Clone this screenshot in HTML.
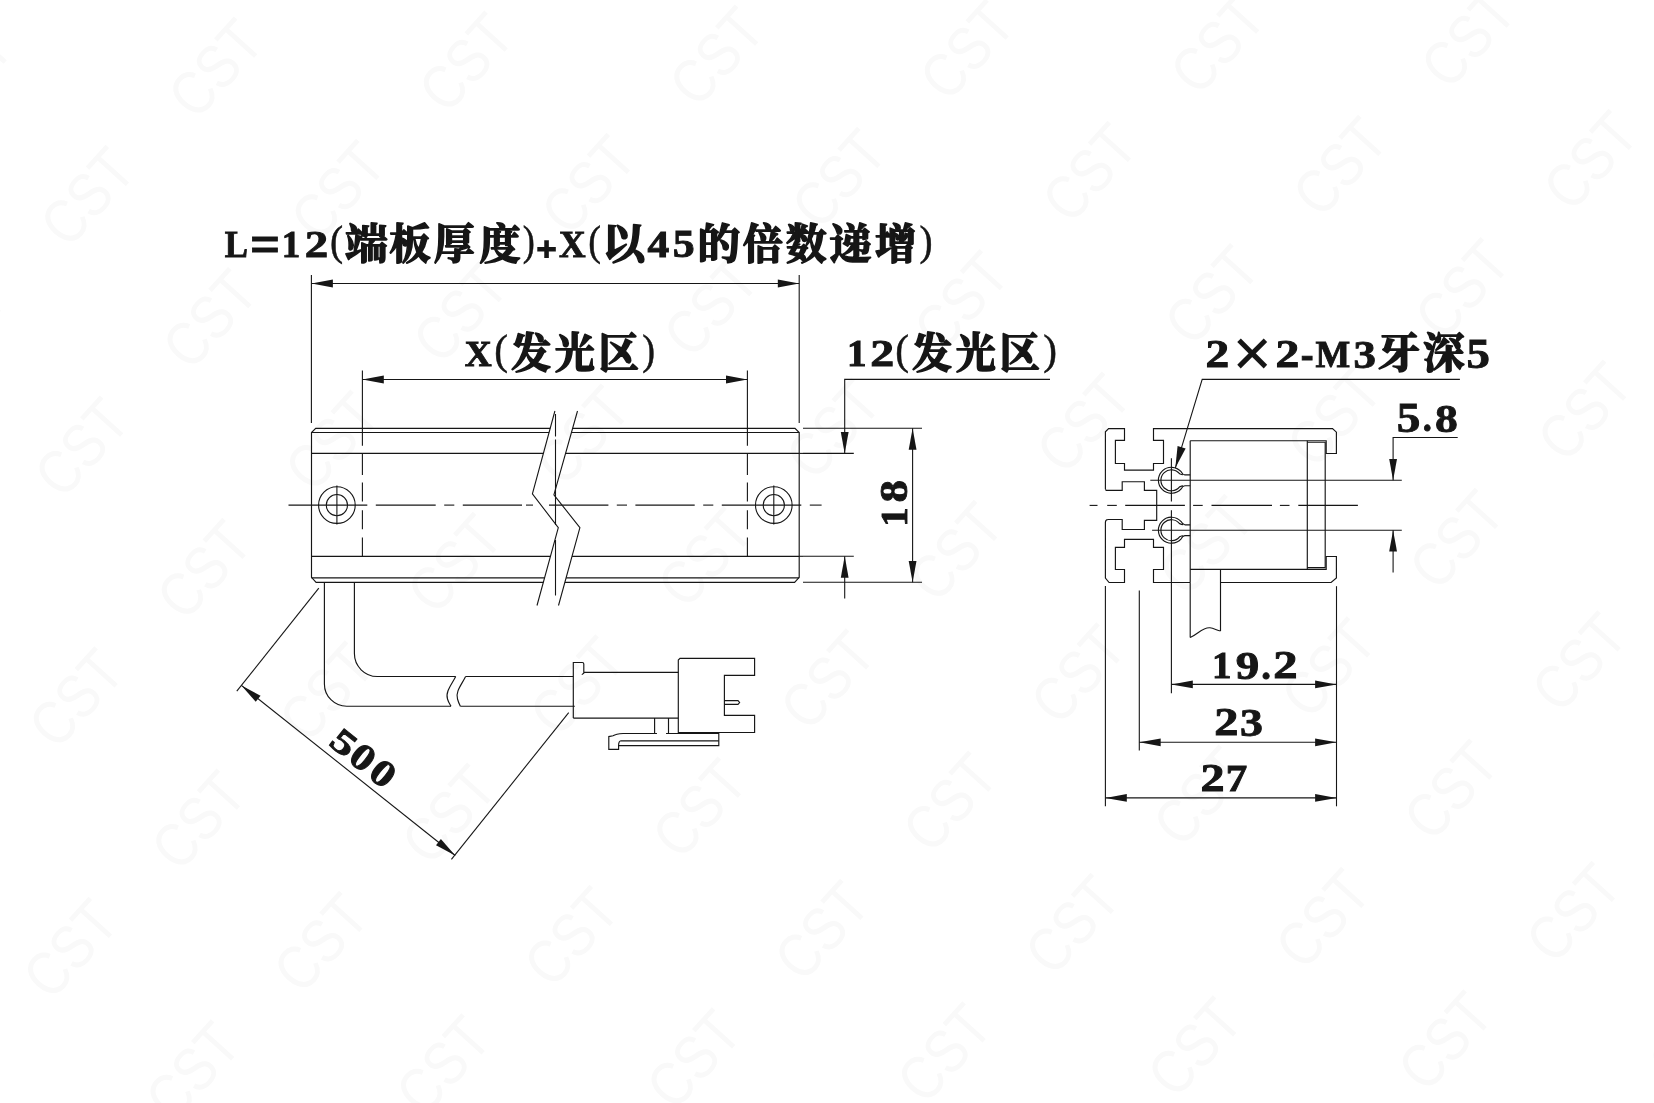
<!DOCTYPE html>
<html lang="zh-CN"><head><meta charset="utf-8"><title>CST 尺寸图</title>
<style>
html,body{margin:0;padding:0;background:#fff;}
body{width:1654px;height:1103px;overflow:hidden;}
svg{display:block;will-change:transform;}
.l{stroke:#161616;stroke-width:1.1;fill:none;}
.o{stroke:#161616;stroke-width:1.15;fill:none;}
.q{stroke:#161616;stroke-width:1.15;fill:none;stroke-linejoin:miter;}
.a{fill:#161616;stroke:none;}
.T{fill:#161616;font-family:"Liberation Serif","Noto Serif CJK SC",serif;}
.b{font-weight:bold;stroke:#161616;stroke-width:0.9px;}
.p{font-weight:bold;stroke:#161616;stroke-width:2px;}
.r{font-weight:normal;stroke:#161616;stroke-width:0.5px;}
.x{font-weight:normal;stroke:#161616;stroke-width:1.6px;}
.c{font-weight:bold;stroke:#161616;stroke-width:1.6px;stroke-linejoin:round;}
.wm text{font-family:"Liberation Sans",sans-serif;font-size:62px;fill:#f9f9f9;}
</style></head><body>
<svg width="1654" height="1103" viewBox="0 0 1654 1103">
<rect width="1654" height="1103" fill="#fff"/>
<g class="wm">
<text transform="translate(92.6,-54.35) rotate(-48) scale(0.84,1)" x="0" y="22" text-anchor="middle">CST</text>
<text transform="translate(-35.5,74) rotate(-48) scale(0.84,1)" x="0" y="22" text-anchor="middle">CST</text>
<text transform="translate(86.9,196.35) rotate(-48) scale(0.84,1)" x="0" y="22" text-anchor="middle">CST</text>
<text transform="translate(-41.2,324.7) rotate(-48) scale(0.84,1)" x="0" y="22" text-anchor="middle">CST</text>
<text transform="translate(81.2,447.05) rotate(-48) scale(0.84,1)" x="0" y="22" text-anchor="middle">CST</text>
<text transform="translate(-46.9,575.4) rotate(-48) scale(0.84,1)" x="0" y="22" text-anchor="middle">CST</text>
<text transform="translate(75.5,697.75) rotate(-48) scale(0.84,1)" x="0" y="22" text-anchor="middle">CST</text>
<text transform="translate(-52.6,826.1) rotate(-48) scale(0.84,1)" x="0" y="22" text-anchor="middle">CST</text>
<text transform="translate(69.8,948.45) rotate(-48) scale(0.84,1)" x="0" y="22" text-anchor="middle">CST</text>
<text transform="translate(-58.3,1076.8) rotate(-48) scale(0.84,1)" x="0" y="22" text-anchor="middle">CST</text>
<text transform="translate(343.1,-60.35) rotate(-48) scale(0.84,1)" x="0" y="22" text-anchor="middle">CST</text>
<text transform="translate(215,68) rotate(-48) scale(0.84,1)" x="0" y="22" text-anchor="middle">CST</text>
<text transform="translate(337.4,190.35) rotate(-48) scale(0.84,1)" x="0" y="22" text-anchor="middle">CST</text>
<text transform="translate(209.3,318.7) rotate(-48) scale(0.84,1)" x="0" y="22" text-anchor="middle">CST</text>
<text transform="translate(331.7,441.05) rotate(-48) scale(0.84,1)" x="0" y="22" text-anchor="middle">CST</text>
<text transform="translate(203.6,569.4) rotate(-48) scale(0.84,1)" x="0" y="22" text-anchor="middle">CST</text>
<text transform="translate(326,691.75) rotate(-48) scale(0.84,1)" x="0" y="22" text-anchor="middle">CST</text>
<text transform="translate(197.9,820.1) rotate(-48) scale(0.84,1)" x="0" y="22" text-anchor="middle">CST</text>
<text transform="translate(320.3,942.45) rotate(-48) scale(0.84,1)" x="0" y="22" text-anchor="middle">CST</text>
<text transform="translate(192.2,1070.8) rotate(-48) scale(0.84,1)" x="0" y="22" text-anchor="middle">CST</text>
<text transform="translate(593.6,-66.35) rotate(-48) scale(0.84,1)" x="0" y="22" text-anchor="middle">CST</text>
<text transform="translate(465.5,62) rotate(-48) scale(0.84,1)" x="0" y="22" text-anchor="middle">CST</text>
<text transform="translate(587.9,184.35) rotate(-48) scale(0.84,1)" x="0" y="22" text-anchor="middle">CST</text>
<text transform="translate(459.8,312.7) rotate(-48) scale(0.84,1)" x="0" y="22" text-anchor="middle">CST</text>
<text transform="translate(582.2,435.05) rotate(-48) scale(0.84,1)" x="0" y="22" text-anchor="middle">CST</text>
<text transform="translate(454.1,563.4) rotate(-48) scale(0.84,1)" x="0" y="22" text-anchor="middle">CST</text>
<text transform="translate(576.5,685.75) rotate(-48) scale(0.84,1)" x="0" y="22" text-anchor="middle">CST</text>
<text transform="translate(448.4,814.1) rotate(-48) scale(0.84,1)" x="0" y="22" text-anchor="middle">CST</text>
<text transform="translate(570.8,936.45) rotate(-48) scale(0.84,1)" x="0" y="22" text-anchor="middle">CST</text>
<text transform="translate(442.7,1064.8) rotate(-48) scale(0.84,1)" x="0" y="22" text-anchor="middle">CST</text>
<text transform="translate(844.1,-72.35) rotate(-48) scale(0.84,1)" x="0" y="22" text-anchor="middle">CST</text>
<text transform="translate(716,56) rotate(-48) scale(0.84,1)" x="0" y="22" text-anchor="middle">CST</text>
<text transform="translate(838.4,178.35) rotate(-48) scale(0.84,1)" x="0" y="22" text-anchor="middle">CST</text>
<text transform="translate(710.3,306.7) rotate(-48) scale(0.84,1)" x="0" y="22" text-anchor="middle">CST</text>
<text transform="translate(832.7,429.05) rotate(-48) scale(0.84,1)" x="0" y="22" text-anchor="middle">CST</text>
<text transform="translate(704.6,557.4) rotate(-48) scale(0.84,1)" x="0" y="22" text-anchor="middle">CST</text>
<text transform="translate(827,679.75) rotate(-48) scale(0.84,1)" x="0" y="22" text-anchor="middle">CST</text>
<text transform="translate(698.9,808.1) rotate(-48) scale(0.84,1)" x="0" y="22" text-anchor="middle">CST</text>
<text transform="translate(821.3,930.45) rotate(-48) scale(0.84,1)" x="0" y="22" text-anchor="middle">CST</text>
<text transform="translate(693.2,1058.8) rotate(-48) scale(0.84,1)" x="0" y="22" text-anchor="middle">CST</text>
<text transform="translate(815.6,1181.15) rotate(-48) scale(0.84,1)" x="0" y="22" text-anchor="middle">CST</text>
<text transform="translate(1094.6,-78.35) rotate(-48) scale(0.84,1)" x="0" y="22" text-anchor="middle">CST</text>
<text transform="translate(966.5,50) rotate(-48) scale(0.84,1)" x="0" y="22" text-anchor="middle">CST</text>
<text transform="translate(1088.9,172.35) rotate(-48) scale(0.84,1)" x="0" y="22" text-anchor="middle">CST</text>
<text transform="translate(960.8,300.7) rotate(-48) scale(0.84,1)" x="0" y="22" text-anchor="middle">CST</text>
<text transform="translate(1083.2,423.05) rotate(-48) scale(0.84,1)" x="0" y="22" text-anchor="middle">CST</text>
<text transform="translate(955.1,551.4) rotate(-48) scale(0.84,1)" x="0" y="22" text-anchor="middle">CST</text>
<text transform="translate(1077.5,673.75) rotate(-48) scale(0.84,1)" x="0" y="22" text-anchor="middle">CST</text>
<text transform="translate(949.4,802.1) rotate(-48) scale(0.84,1)" x="0" y="22" text-anchor="middle">CST</text>
<text transform="translate(1071.8,924.45) rotate(-48) scale(0.84,1)" x="0" y="22" text-anchor="middle">CST</text>
<text transform="translate(943.7,1052.8) rotate(-48) scale(0.84,1)" x="0" y="22" text-anchor="middle">CST</text>
<text transform="translate(1066.1,1175.15) rotate(-48) scale(0.84,1)" x="0" y="22" text-anchor="middle">CST</text>
<text transform="translate(1217,44) rotate(-48) scale(0.84,1)" x="0" y="22" text-anchor="middle">CST</text>
<text transform="translate(1339.4,166.35) rotate(-48) scale(0.84,1)" x="0" y="22" text-anchor="middle">CST</text>
<text transform="translate(1211.3,294.7) rotate(-48) scale(0.84,1)" x="0" y="22" text-anchor="middle">CST</text>
<text transform="translate(1333.7,417.05) rotate(-48) scale(0.84,1)" x="0" y="22" text-anchor="middle">CST</text>
<text transform="translate(1205.6,545.4) rotate(-48) scale(0.84,1)" x="0" y="22" text-anchor="middle">CST</text>
<text transform="translate(1328,667.75) rotate(-48) scale(0.84,1)" x="0" y="22" text-anchor="middle">CST</text>
<text transform="translate(1199.9,796.1) rotate(-48) scale(0.84,1)" x="0" y="22" text-anchor="middle">CST</text>
<text transform="translate(1322.3,918.45) rotate(-48) scale(0.84,1)" x="0" y="22" text-anchor="middle">CST</text>
<text transform="translate(1194.2,1046.8) rotate(-48) scale(0.84,1)" x="0" y="22" text-anchor="middle">CST</text>
<text transform="translate(1316.6,1169.15) rotate(-48) scale(0.84,1)" x="0" y="22" text-anchor="middle">CST</text>
<text transform="translate(1467.5,38) rotate(-48) scale(0.84,1)" x="0" y="22" text-anchor="middle">CST</text>
<text transform="translate(1589.9,160.35) rotate(-48) scale(0.84,1)" x="0" y="22" text-anchor="middle">CST</text>
<text transform="translate(1461.8,288.7) rotate(-48) scale(0.84,1)" x="0" y="22" text-anchor="middle">CST</text>
<text transform="translate(1584.2,411.05) rotate(-48) scale(0.84,1)" x="0" y="22" text-anchor="middle">CST</text>
<text transform="translate(1456.1,539.4) rotate(-48) scale(0.84,1)" x="0" y="22" text-anchor="middle">CST</text>
<text transform="translate(1578.5,661.75) rotate(-48) scale(0.84,1)" x="0" y="22" text-anchor="middle">CST</text>
<text transform="translate(1450.4,790.1) rotate(-48) scale(0.84,1)" x="0" y="22" text-anchor="middle">CST</text>
<text transform="translate(1572.8,912.45) rotate(-48) scale(0.84,1)" x="0" y="22" text-anchor="middle">CST</text>
<text transform="translate(1444.7,1040.8) rotate(-48) scale(0.84,1)" x="0" y="22" text-anchor="middle">CST</text>
<text transform="translate(1567.1,1163.15) rotate(-48) scale(0.84,1)" x="0" y="22" text-anchor="middle">CST</text>
<text transform="translate(1718,32) rotate(-48) scale(0.84,1)" x="0" y="22" text-anchor="middle">CST</text>
<text transform="translate(1712.3,282.7) rotate(-48) scale(0.84,1)" x="0" y="22" text-anchor="middle">CST</text>
<text transform="translate(1706.6,533.4) rotate(-48) scale(0.84,1)" x="0" y="22" text-anchor="middle">CST</text>
<text transform="translate(1700.9,784.1) rotate(-48) scale(0.84,1)" x="0" y="22" text-anchor="middle">CST</text>
<text transform="translate(1695.2,1034.8) rotate(-48) scale(0.84,1)" x="0" y="22" text-anchor="middle">CST</text>
</g>
<path class="l" d="M554.9 411 L532.4 493.8 L558.3 527.7 L537 605.5"/>
<path class="l" d="M577.5 411 L553.9 494.8 L579.9 527.7 L558.5 605.5"/>
<path class="o" d="M550.2 428.3 L315.7 428.3 L311.5 432.5 L311.5 577.3 L316.1 582.3 L543.35 582.3"/>
<path class="o" d="M572.63 428.3 L795 428.3 L799.2 432.5 L799.2 577.3 L794.6 582.3 L564.88 582.3"/>
<line class="o" x1="311.5" y1="432.5" x2="549.06" y2="432.5"/>
<line class="o" x1="571.45" y1="432.5" x2="799.2" y2="432.5"/>
<line class="o" x1="311.5" y1="453.4" x2="543.38" y2="453.4"/>
<line class="o" x1="565.56" y1="453.4" x2="799.2" y2="453.4"/>
<line class="o" x1="311.5" y1="556.3" x2="550.47" y2="556.3"/>
<line class="o" x1="572.03" y1="556.3" x2="799.2" y2="556.3"/>
<line class="o" x1="311.5" y1="577.9" x2="544.56" y2="577.9"/>
<line class="o" x1="566.09" y1="577.9" x2="799.2" y2="577.9"/>
<circle class="l" cx="336.9" cy="505.1" r="18.3"/>
<circle class="l" cx="336.9" cy="505.1" r="10.6"/>
<line class="l" x1="336.9" y1="485.6" x2="336.9" y2="524.6"/>
<circle class="l" cx="773.8" cy="505.1" r="18.3"/>
<circle class="l" cx="773.8" cy="505.1" r="10.6"/>
<line class="l" x1="773.8" y1="485.6" x2="773.8" y2="524.6"/>
<line class="l" x1="288.5" y1="505.1" x2="367.3" y2="505.1"/>
<line class="l" x1="375.8" y1="505.1" x2="435.7" y2="505.1"/>
<line class="l" x1="444.2" y1="505.1" x2="454.3" y2="505.1"/>
<line class="l" x1="462.8" y1="505.1" x2="522" y2="505.1"/>
<line class="l" x1="526" y1="505.1" x2="533" y2="505.1"/>
<line class="l" x1="549" y1="505.1" x2="608.4" y2="505.1"/>
<line class="l" x1="616.8" y1="505.1" x2="627" y2="505.1"/>
<line class="l" x1="635.4" y1="505.1" x2="694.7" y2="505.1"/>
<line class="l" x1="703.2" y1="505.1" x2="713.3" y2="505.1"/>
<line class="l" x1="721.8" y1="505.1" x2="801.3" y2="505.1"/>
<line class="l" x1="809.8" y1="505.1" x2="821.6" y2="505.1"/>
<line class="l" x1="555.5" y1="414" x2="555.5" y2="436.5"/>
<line class="l" x1="555.5" y1="439.5" x2="555.5" y2="525"/>
<line class="l" x1="555.5" y1="540" x2="555.5" y2="595.5"/>
<line class="l" x1="362.4" y1="370.5" x2="362.4" y2="445.8"/>
<line class="l" x1="362.4" y1="453.9" x2="362.4" y2="475"/>
<line class="l" x1="362.4" y1="482.4" x2="362.4" y2="501.4"/>
<line class="l" x1="362.4" y1="510.3" x2="362.4" y2="529.3"/>
<line class="l" x1="362.4" y1="537.4" x2="362.4" y2="556.3"/>
<line class="l" x1="747.4" y1="370.5" x2="747.4" y2="445.8"/>
<line class="l" x1="747.4" y1="453.9" x2="747.4" y2="475"/>
<line class="l" x1="747.4" y1="482.4" x2="747.4" y2="501.4"/>
<line class="l" x1="747.4" y1="510.3" x2="747.4" y2="529.3"/>
<line class="l" x1="747.4" y1="537.4" x2="747.4" y2="556.3"/>
<line class="l" x1="311.4" y1="275" x2="311.4" y2="423"/>
<line class="l" x1="799.2" y1="275" x2="799.2" y2="423"/>
<line class="l" x1="311.5" y1="283.5" x2="799.2" y2="283.5"/>
<polygon class="a" points="311.5,283.5 332.9,279.6 332.9,287.4"/>
<polygon class="a" points="799.2,283.5 777.8,287.4 777.8,279.6"/>
<line class="l" x1="362.4" y1="379.5" x2="747.4" y2="379.5"/>
<polygon class="a" points="362.4,379.5 383.8,375.6 383.8,383.4"/>
<polygon class="a" points="747.4,379.5 726,383.4 726,375.6"/>
<line class="l" x1="803" y1="453.4" x2="853.8" y2="453.4"/>
<line class="l" x1="803" y1="556.3" x2="853.8" y2="556.3"/>
<line class="l" x1="799.2" y1="453.4" x2="803" y2="453.4"/>
<line class="l" x1="799.2" y1="556.3" x2="803" y2="556.3"/>
<path class="l" d="M1050 379.4 L844.7 379.4 L844.7 453.4"/>
<polygon class="a" points="844.7,453.4 840.8,432 848.6,432"/>
<line class="l" x1="844.7" y1="556.3" x2="844.7" y2="598.5"/>
<polygon class="a" points="844.7,556.3 848.6,577.7 840.8,577.7"/>
<line class="l" x1="803" y1="428.3" x2="922" y2="428.3"/>
<line class="l" x1="803" y1="582.3" x2="922" y2="582.3"/>
<line class="l" x1="912.6" y1="428.3" x2="912.6" y2="582.3"/>
<polygon class="a" points="912.6,428.3 916.5,449.7 908.7,449.7"/>
<polygon class="a" points="912.6,582.3 908.7,560.9 916.5,560.9"/>
<path class="o" d="M324.4 582.3 L324.4 683.9 A22.3 22.3 0 0 0 346.7 706.2 L451 706.2"/>
<path class="o" d="M354.4 582.3 L354.4 653.6 A22.9 22.9 0 0 0 377.3 676.5 L455.7 676.5"/>
<path class="o" d="M455.7 676.5 C452 684 445 692 447.5 699 C448.5 702.5 450 704.5 451 706.2"/>
<path class="o" d="M465.6 676.5 C462 684 455 692 457.5 699 C458.5 702.5 459.5 704.5 460.3 706.2"/>
<line class="o" x1="465.6" y1="676.5" x2="573.3" y2="676.5"/>
<line class="o" x1="460.3" y1="706.2" x2="574.8" y2="706.2"/>
<path class="o" d="M573.3 718.1 L573.3 662.5 L582.3 662.5 Q583.8 662.5 583.8 664 L583.8 673.1 L581.8 674.6 M583.4 672.3 L678.3 672.3 M573.3 718.1 L678.3 718.1"/>
<path class="o" d="M678.3 732.5 L678.3 660 L680 658.3 L754.6 658.3 L754.6 675.3 L724.4 675.3 L724.4 715.4 L754.6 715.4 L754.6 732.5 Z"/>
<path class="o" d="M724.4 700.6 L738 700.6 L739.6 702.5 L738 704.4 L724.4 704.4"/>
<path class="o" d="M654.6 718.1 L654.6 733.5 L656.8 733.5 M668.5 718.1 L668.5 733.5 L666.2 733.5"/>
<path class="o" d="M656.8 733.5 L623.1 733.5 Q616 734 613 735.8 L608.8 736.6 L608.8 749.4 L618.6 749.4 L618.6 745.6 L718.8 745.6 L718.8 733.5 L666.2 733.5"/>
<path class="o" d="M718.8 740.8 L621 740.8 Q618.6 741 618.6 745.6"/>
<line class="o" x1="678.3" y1="733.2" x2="718.8" y2="733.2"/>
<line class="l" x1="318.8" y1="588.1" x2="236.8" y2="691.2"/>
<line class="l" x1="568.7" y1="712.6" x2="451.4" y2="859.3"/>
<line class="l" x1="241.4" y1="685.4" x2="455.2" y2="855.5"/>
<polygon class="a" points="241.4,685.4 260.57,695.67 255.72,701.78"/>
<polygon class="a" points="455.2,855.5 436.03,845.23 440.88,839.12"/>
<path class="q" d="M1105.4 489.3 L1105.4 431.8 L1108.6 428.6 L1124.5 428.6 L1124.5 440.4 L1115.4 440.4 L1115.4 463.5 L1124.5 463.5 L1124.5 470.1 L1153.5 470.1 L1153.5 463.5 L1163.5 463.5 L1163.5 440.4 L1153.5 440.4 L1153.5 428.6 L1332.5 428.6 L1336.4 432.2 L1336.4 453.5 L1326.2 453.5 L1326.2 440.7 L1190.2 440.7"/>
<path class="q" d="M1105.4 489.3 L1106.2 490.3 L1122.2 490.3 L1122.2 481.7 L1144.4 481.7 L1144.4 490.3 L1156.7 490.3 L1156.7 520.4 L1144.4 520.4 L1144.4 529.5 L1122.2 529.5 L1122.2 519.5 L1107.9 519.5"/>
<path class="q" d="M1107.9 519.5 Q1105.4 519.7 1105.4 522.3 L1105.4 578 L1109.1 582.5 L1124.5 582.5 L1124.5 569.5 L1115.4 569.5 L1115.4 547.4 L1124.5 547.4 L1124.5 539.4 L1153.5 539.4 L1153.5 547.4 L1163.5 547.4 L1163.5 569.5 L1153.5 569.5 L1153.5 582.5 L1190.2 582.5"/>
<path class="q" d="M1190.2 440.7 L1190.2 582.5"/>
<path class="q" d="M1190.2 569.4 L1326.2 569.4 L1326.2 556.5 L1336.4 556.5 L1336.4 578 L1331.1 582.5 L1220.5 582.5"/>
<path class="q" d="M1307.3 440.7 L1307.3 569.4"/>
<path class="q" d="M1307.3 442.2 L1325.2 442.2 L1325.2 567.6 L1307.3 567.6"/>
<path class="q" d="M1190.2 474.9 L1184.8 474.9 Q1182.6 474.6 1181.15 471.7 A13.0 13.0 0 1 0 1181.15 488.9 Q1182.6 486 1184.8 485.7 L1190.2 485.7"/>
<path class="q" d="M1183.2 474.7 Q1181.6 474.5 1179.57 473.7 A10.5 10.5 0 1 0 1179.57 486.9 Q1181.6 486.1 1183.2 485.9"/>
<path class="q" d="M1190.2 524.8 L1184.8 524.8 Q1182.6 524.5 1181.15 521.6 A13.0 13.0 0 1 0 1181.15 538.8 Q1182.6 535.9 1184.8 535.6 L1190.2 535.6"/>
<path class="q" d="M1183.2 524.6 Q1181.6 524.4 1179.57 523.6 A10.5 10.5 0 1 0 1179.57 536.8 Q1181.6 536 1183.2 535.8"/>
<line class="l" x1="1150.3" y1="480.3" x2="1401.8" y2="480.3"/>
<line class="l" x1="1152.1" y1="530.2" x2="1401.8" y2="530.2"/>
<line class="l" x1="1171.4" y1="458.3" x2="1171.4" y2="501.6"/>
<line class="l" x1="1171.4" y1="510.2" x2="1171.4" y2="693.3"/>
<line class="l" x1="1089.6" y1="505.4" x2="1097.5" y2="505.4"/>
<line class="l" x1="1107.2" y1="505.4" x2="1116.8" y2="505.4"/>
<line class="l" x1="1125.2" y1="505.4" x2="1184.9" y2="505.4"/>
<line class="l" x1="1193.1" y1="505.4" x2="1202.7" y2="505.4"/>
<line class="l" x1="1211.5" y1="505.4" x2="1272" y2="505.4"/>
<line class="l" x1="1279.9" y1="505.4" x2="1289.5" y2="505.4"/>
<line class="l" x1="1298.3" y1="505.4" x2="1357.9" y2="505.4"/>
<line class="q" x1="1220.5" y1="569.4" x2="1220.5" y2="631"/>
<line class="q" x1="1190.2" y1="582.5" x2="1190.2" y2="637.5"/>
<path class="q" d="M1190.2 637.5 C1198 634 1203 627 1210 627.8 C1214 628.3 1217 630.5 1220.5 631"/>
<line class="l" x1="1105.4" y1="586" x2="1105.4" y2="806.3"/>
<line class="l" x1="1139.3" y1="590.5" x2="1139.3" y2="750.5"/>
<line class="l" x1="1336.5" y1="586.2" x2="1336.5" y2="806.3"/>
<line class="l" x1="1171.4" y1="684.4" x2="1336.5" y2="684.4"/>
<polygon class="a" points="1171.4,684.4 1192.8,680.5 1192.8,688.3"/>
<polygon class="a" points="1336.5,684.4 1315.1,688.3 1315.1,680.5"/>
<line class="l" x1="1139.3" y1="742.3" x2="1336.5" y2="742.3"/>
<polygon class="a" points="1139.3,742.3 1160.7,738.4 1160.7,746.2"/>
<polygon class="a" points="1336.5,742.3 1315.1,746.2 1315.1,738.4"/>
<line class="l" x1="1105.4" y1="797.9" x2="1336.5" y2="797.9"/>
<polygon class="a" points="1105.4,797.9 1126.8,794 1126.8,801.8"/>
<polygon class="a" points="1336.5,797.9 1315.1,801.8 1315.1,794"/>
<path class="l" d="M1457.7 437.5 L1393.1 437.5 L1393.1 480.3"/>
<polygon class="a" points="1393.1,480.3 1389.2,458.9 1397,458.9"/>
<line class="l" x1="1393.1" y1="530.2" x2="1393.1" y2="572.5"/>
<polygon class="a" points="1393.1,530.2 1397,551.6 1389.2,551.6"/>
<path class="l" d="M1459.9 379.4 L1202.2 379.4 L1175.3 468.1"/>
<polygon class="a" points="1175.3,468.1 1177.58,446.12 1185.62,448.55"/>
<text class="T"><tspan class="b" x="224.66" y="257.25" font-size="37.57" textLength="23.15" lengthAdjust="spacingAndGlyphs">L</tspan><tspan class="b" x="249.77" y="262.72" font-size="57.77" textLength="30.65" lengthAdjust="spacingAndGlyphs">=</tspan><tspan class="b" x="281.69" y="257.25" font-size="37.87" textLength="18.47" lengthAdjust="spacingAndGlyphs">1</tspan><tspan class="b" x="304.68" y="257.25" font-size="38.97" textLength="23.49" lengthAdjust="spacingAndGlyphs">2</tspan><tspan class="r" x="329.92" y="255.45" font-size="41.8" textLength="13.1" lengthAdjust="spacingAndGlyphs">(</tspan><tspan class="c" x="345.06" y="259.04" font-size="42.43" textLength="42.83" lengthAdjust="spacingAndGlyphs">端</tspan><tspan class="c" x="389.28" y="258.83" font-size="41.93" textLength="41.68" lengthAdjust="spacingAndGlyphs">板</tspan><tspan class="c" x="433.85" y="258.83" font-size="41.93" textLength="40.93" lengthAdjust="spacingAndGlyphs">厚</tspan><tspan class="c" x="479.24" y="258.83" font-size="41.84" textLength="41.26" lengthAdjust="spacingAndGlyphs">度</tspan><tspan class="r" x="522.68" y="255.45" font-size="41.8" textLength="12.06" lengthAdjust="spacingAndGlyphs">)</tspan><tspan class="p" x="536.54" y="259.83" font-size="32.63" textLength="20.1" lengthAdjust="spacingAndGlyphs">+</tspan><tspan class="b" x="558.97" y="257.15" font-size="37.11" textLength="26.62" lengthAdjust="spacingAndGlyphs">X</tspan><tspan class="r" x="588.27" y="255.45" font-size="41.8" textLength="12.71" lengthAdjust="spacingAndGlyphs">(</tspan><tspan class="c" x="602.13" y="258.58" font-size="43.21" textLength="43.38" lengthAdjust="spacingAndGlyphs">以</tspan><tspan class="b" x="647.56" y="257.15" font-size="37.83" textLength="21.7" lengthAdjust="spacingAndGlyphs">4</tspan><tspan class="b" x="672.79" y="257.36" font-size="40.18" textLength="21.97" lengthAdjust="spacingAndGlyphs">5</tspan><tspan class="c" x="697.43" y="258.92" font-size="42.29" textLength="42.87" lengthAdjust="spacingAndGlyphs">的</tspan><tspan class="c" x="743.06" y="258.82" font-size="41.98" textLength="39.81" lengthAdjust="spacingAndGlyphs">倍</tspan><tspan class="c" x="785.74" y="258.86" font-size="42.07" textLength="40.79" lengthAdjust="spacingAndGlyphs">数</tspan><tspan class="c" x="829.59" y="259.09" font-size="42.34" textLength="42.11" lengthAdjust="spacingAndGlyphs">递</tspan><tspan class="c" x="874.97" y="258.86" font-size="42.07" textLength="41.38" lengthAdjust="spacingAndGlyphs">增</tspan><tspan class="r" x="919.48" y="255.45" font-size="41.8" textLength="13.1" lengthAdjust="spacingAndGlyphs">)</tspan></text>
<text class="T"><tspan class="b" x="464.76" y="366.15" font-size="36.81" textLength="26.93" lengthAdjust="spacingAndGlyphs">X</tspan><tspan class="r" x="494.34" y="364.23" font-size="42.35" textLength="13.74" lengthAdjust="spacingAndGlyphs">(</tspan><tspan class="c" x="510.96" y="368.23" font-size="41.91" textLength="40.13" lengthAdjust="spacingAndGlyphs">发</tspan><tspan class="c" x="554.72" y="368.26" font-size="42" textLength="40.08" lengthAdjust="spacingAndGlyphs">光</tspan><tspan class="c" x="598.46" y="368.26" font-size="42.46" textLength="40.35" lengthAdjust="spacingAndGlyphs">区</tspan><tspan class="r" x="642.31" y="364.23" font-size="42.35" textLength="12.84" lengthAdjust="spacingAndGlyphs">)</tspan></text>
<text class="T"><tspan class="b" x="846.92" y="366.15" font-size="37.57" textLength="19.56" lengthAdjust="spacingAndGlyphs">1</tspan><tspan class="b" x="870.34" y="366.15" font-size="38.51" textLength="23.97" lengthAdjust="spacingAndGlyphs">2</tspan><tspan class="r" x="895.34" y="364.23" font-size="42.35" textLength="13.74" lengthAdjust="spacingAndGlyphs">(</tspan><tspan class="c" x="911.96" y="368.23" font-size="41.91" textLength="40.13" lengthAdjust="spacingAndGlyphs">发</tspan><tspan class="c" x="955.72" y="368.26" font-size="42" textLength="40.08" lengthAdjust="spacingAndGlyphs">光</tspan><tspan class="c" x="999.46" y="368.26" font-size="42.46" textLength="40.35" lengthAdjust="spacingAndGlyphs">区</tspan><tspan class="r" x="1043.22" y="364.23" font-size="42.35" textLength="13.74" lengthAdjust="spacingAndGlyphs">)</tspan></text>
<text class="T"><tspan class="b" x="1205.56" y="367.35" font-size="39.42" textLength="23.73" lengthAdjust="spacingAndGlyphs">2</tspan><tspan class="x" x="1232.91" y="376.07" font-size="68.02" textLength="38.41" lengthAdjust="spacingAndGlyphs">×</tspan><tspan class="b" x="1275.55" y="367.35" font-size="39.42" textLength="23.85" lengthAdjust="spacingAndGlyphs">2</tspan><tspan class="b" x="1300.84" y="369.15" font-size="43.55" textLength="12.82" lengthAdjust="spacingAndGlyphs">-</tspan><tspan class="b" x="1315.42" y="367.35" font-size="37.72" textLength="34.69" lengthAdjust="spacingAndGlyphs">M</tspan><tspan class="b" x="1353.46" y="367.56" font-size="40.04" textLength="22.42" lengthAdjust="spacingAndGlyphs">3</tspan><tspan class="c" x="1377.78" y="368.32" font-size="41.97" textLength="42.64" lengthAdjust="spacingAndGlyphs">牙</tspan><tspan class="c" x="1423.03" y="368.29" font-size="42.29" textLength="41.68" lengthAdjust="spacingAndGlyphs">深</tspan><tspan class="b" x="1466.58" y="368.23" font-size="42.89" textLength="23.39" lengthAdjust="spacingAndGlyphs">5</tspan></text>
<text class="T"><tspan class="b" x="1396.66" y="431.53" font-size="42.74" textLength="23.62" lengthAdjust="spacingAndGlyphs">5</tspan><tspan class="b" x="1422.75" y="431.3" font-size="38.86" textLength="9.1" lengthAdjust="spacingAndGlyphs">.</tspan><tspan class="b" x="1435.03" y="431.55" font-size="40.9" textLength="22.83" lengthAdjust="spacingAndGlyphs">8</tspan></text>
<text class="T"><tspan class="b" x="1211.94" y="678.35" font-size="37.57" textLength="19.42" lengthAdjust="spacingAndGlyphs">1</tspan><tspan class="b" x="1235.87" y="679.06" font-size="40.19" textLength="23.48" lengthAdjust="spacingAndGlyphs">9</tspan><tspan class="b" x="1261.24" y="678.8" font-size="38.86" textLength="9.72" lengthAdjust="spacingAndGlyphs">.</tspan><tspan class="b" x="1273.21" y="678.35" font-size="39.12" textLength="24.34" lengthAdjust="spacingAndGlyphs">2</tspan></text>
<text class="T"><tspan class="b" x="1214.32" y="735.45" font-size="39.27" textLength="24.21" lengthAdjust="spacingAndGlyphs">2</tspan><tspan class="b" x="1240.03" y="736.06" font-size="40.19" textLength="22.89" lengthAdjust="spacingAndGlyphs">3</tspan></text>
<text class="T"><tspan class="b" x="1200.43" y="791.25" font-size="39.27" textLength="24.09" lengthAdjust="spacingAndGlyphs">2</tspan><tspan class="b" x="1225.89" y="791.25" font-size="38.18" textLength="21.51" lengthAdjust="spacingAndGlyphs">7</tspan></text>
<text class="T" transform="rotate(-90)"><tspan class="b" x="-526.74" y="906.65" font-size="38.17" textLength="19.28" lengthAdjust="spacingAndGlyphs">1</tspan><tspan class="b" x="-502.64" y="907.15" font-size="40.46" textLength="22.49" lengthAdjust="spacingAndGlyphs">8</tspan></text>
<text class="T" transform="translate(241.4,685.4) rotate(38.5)"><tspan class="b" x="104.05" y="-7.59" font-size="34.46" textLength="23.74" lengthAdjust="spacingAndGlyphs">5</tspan><tspan class="b" x="128.75" y="-7.01" font-size="37.2" textLength="22.3" lengthAdjust="spacingAndGlyphs">0</tspan><tspan class="b" x="154.33" y="-7.01" font-size="37.2" textLength="22.53" lengthAdjust="spacingAndGlyphs">0</tspan></text>
</svg>
</body></html>
